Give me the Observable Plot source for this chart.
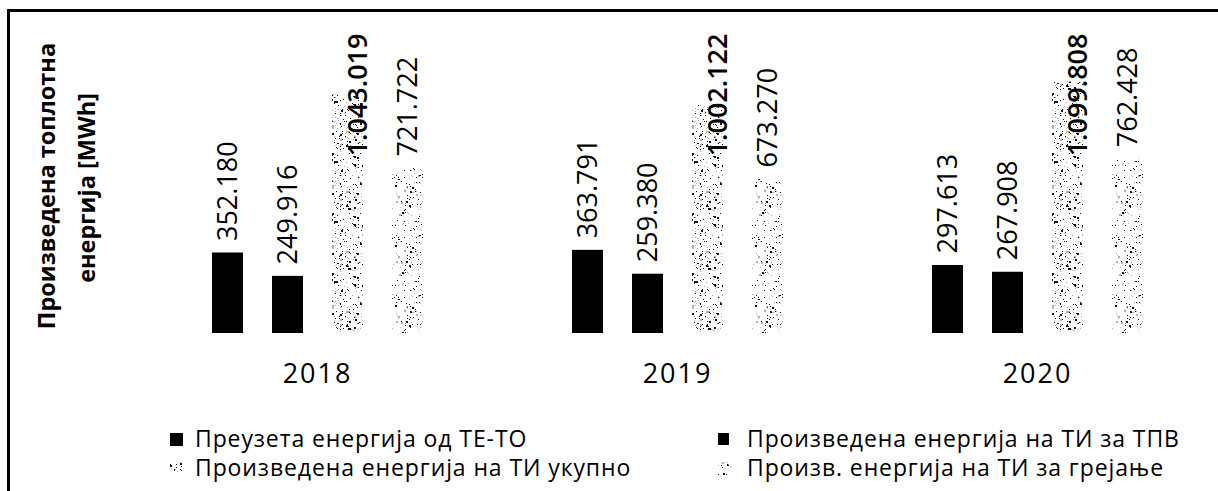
<!DOCTYPE html>
<html>
<head>
<meta charset="utf-8">
<script src="https://cdn.jsdelivr.net/npm/d3@7"></script>
<script src="https://cdn.jsdelivr.net/npm/@observablehq/plot@0.6"></script>
<style>
  html, body { margin: 0; padding: 0; background: #fff; }
  body { width: 1218px; height: 491px; overflow: hidden; position: relative; font-family: "Open Sans", sans-serif; }
  #frame { position: absolute; left: 7px; top: 9px; width: 1400px; height: 700px; border-left: 3px solid #000; border-top: 3px solid #000; z-index: 5; pointer-events: none; }
  #chart { position: absolute; left: 0; top: 0; }
  #chart svg { background: transparent !important; }
  #chart g[aria-label^="fx-axis"] text { font-size: 27px; letter-spacing: 2px; fill: #000; }
  .ytitle { position: absolute; font-weight: bold; font-size: 23.5px; white-space: nowrap; color: #000; transform: translate(-50%, -50%) rotate(-90deg); line-height: 1; }
  #legend { position: absolute; left: 0; top: 400px; width: 1218px; height: 91px; }
  .item { position: absolute; font-size: 23px; letter-spacing: 0.9px; line-height: 29px; white-space: nowrap; color: #000; }
</style>
</head>
<body>
<div id="frame"></div>
<div id="chart"></div>
<div class="ytitle" id="yt1"></div>
<div class="ytitle" id="yt2"></div>
<div id="legend"></div>
<script>
// ---- data ----
const years = ["2018", "2019", "2020"];
const seriesNames = [
  "Преузета енергија од ТЕ-ТО",
  "Произведена енергија на ТИ за ТПВ",
  "Произведена енергија на ТИ укупно",
  "Произв. енергија на ТИ за грејање"
];
const tetoValues = [352180, 363791, 297613];
const tpvValues = [249916, 259380, 267908];
const totalValues = [1043019, 1002122, 1099808];
const heatingValues = [721722, 673270, 762428];
const yTitleLines = ["Произведена топлотна", "енергија [MWh]"];

// ---- build table ----
const valueArrays = [tetoValues, tpvValues, totalValues, heatingValues];
const rows = [];
years.forEach((yr, i) => {
  seriesNames.forEach((s, j) => rows.push({ year: yr, series: s, value: valueArrays[j][i] }));
});

const fmt = d3.formatLocale({ decimal: ",", thousands: ".", grouping: [3], currency: ["", ""] }).format(",d");

const yMax = 1400000;
const bigThreshold = 900000;
const normalRows = rows.filter(d => d.value < bigThreshold);
const bigRows = rows.filter(d => d.value >= bigThreshold);

const plot = Plot.plot({
  width: 1218,
  height: 400,
  marginLeft: 137,
  marginRight: 1,
  marginTop: 13,
  marginBottom: 67,
  style: { fontFamily: "'Open Sans', sans-serif", background: "transparent", color: "#000" },
  fx: { domain: years, padding: 0, label: null, tickSize: 0, tickPadding: 30, axis: "bottom" },
  x: { domain: seriesNames, paddingInner: 0.49, paddingOuter: 1.2, axis: null },
  y: { domain: [0, yMax], axis: null },
  color: { type: "ordinal", domain: seriesNames, range: ["#000", "#000", "url(#stipA)", "url(#stipB)"] },
  marks: [
    Plot.barY(rows, { fx: "year", x: "series", y: "value", fill: "series" }),
    Plot.text(normalRows, {
      fx: "year", x: "series", y: "value", text: d => fmt(d.value),
      rotate: -90, textAnchor: "start", dy: -12, fontSize: 27, fill: "#000"
    }),
    Plot.text(bigRows, {
      fx: "year", x: "series", frameAnchor: "top", text: d => fmt(d.value),
      rotate: -90, textAnchor: "end", dy: 20, fontSize: 27, fill: "#000", fontWeight: 600
    })
  ]
});

// ---- stipple textures (visual only) ----
function addPattern(svg, id, size, count, seed, grayShare) {
  const ns = "http://www.w3.org/2000/svg";
  let defs = svg.querySelector("defs");
  if (!defs) { defs = document.createElementNS(ns, "defs"); svg.insertBefore(defs, svg.firstChild); }
  const p = document.createElementNS(ns, "pattern");
  p.setAttribute("id", id);
  p.setAttribute("patternUnits", "userSpaceOnUse");
  p.setAttribute("width", size);
  p.setAttribute("height", size);
  const bg = document.createElementNS(ns, "rect");
  bg.setAttribute("width", size); bg.setAttribute("height", size); bg.setAttribute("fill", "#fff");
  p.appendChild(bg);
  let s = seed;
  const next = () => (s = (s * 1103515245 + 12345) % 2147483648) / 2147483648;
  for (let k = 0; k < count; k++) {
    const r = document.createElementNS(ns, "rect");
    r.setAttribute("x", Math.floor(next() * size));
    r.setAttribute("y", Math.floor(next() * size));
    const big = next() < 0.12;
    r.setAttribute("width", big ? 2 : 1);
    r.setAttribute("height", big ? 2 : 1);
    r.setAttribute("fill", next() < grayShare ? "#b0b0b0" : "#111");
    p.appendChild(r);
  }
  defs.appendChild(p);
}
const mainSvg = plot.tagName.toLowerCase() === "svg" ? plot : plot.querySelector("svg");
addPattern(mainSvg, "stipA", 60, 330, 12345, 0.45);
addPattern(mainSvg, "stipB", 60, 270, 67890, 0.5);

document.getElementById("chart").appendChild(plot);

// ---- y title ----
const yt1 = document.getElementById("yt1");
yt1.textContent = yTitleLines[0];
yt1.style.left = "47px"; yt1.style.top = "186px";
const yt2 = document.getElementById("yt2");
yt2.textContent = yTitleLines[1];
yt2.style.left = "87px"; yt2.style.top = "188px";

// ---- legend ----
const legend = document.getElementById("legend");
const legendPos = [
  { sx: 170, tx: 195, top: 24 },
  { sx: 718, tx: 747, top: 24 },
  { sx: 170, tx: 195, top: 53 },
  { sx: 718, tx: 747, top: 53 }
];
const swatchFill = ["#000", "#000", "url(#stipA)", "url(#stipB)"];
seriesNames.forEach((name, i) => {
  const pos = legendPos[i];
  const sw = document.createElementNS("http://www.w3.org/2000/svg", "svg");
  sw.setAttribute("width", 13); sw.setAttribute("height", 13);
  sw.style.position = "absolute";
  sw.style.left = pos.sx + "px";
  sw.style.top = (pos.top + 9) + "px";
  const r = document.createElementNS("http://www.w3.org/2000/svg", "rect");
  r.setAttribute("width", i === 1 ? 11 : 13); r.setAttribute("height", i === 1 ? 12 : 13);
  r.setAttribute("fill", swatchFill[i]);
  sw.appendChild(r);
  legend.appendChild(sw);
  const t = document.createElement("div");
  t.className = "item";
  t.textContent = name;
  t.style.left = pos.tx + "px";
  t.style.top = pos.top + "px";
  legend.appendChild(t);
});
</script>
</body>
</html>
